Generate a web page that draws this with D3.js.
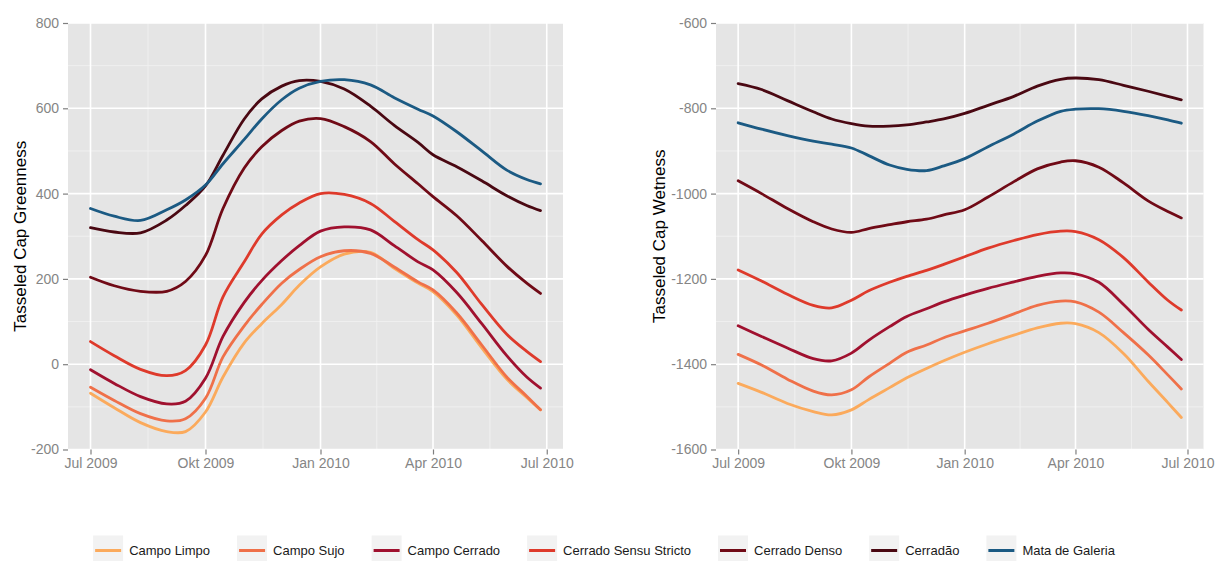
<!DOCTYPE html>
<html>
<head>
<meta charset="utf-8">
<script src="https://cdn.jsdelivr.net/npm/d3@7"></script>
<style>
  body { margin: 0; background: #fff; }
  svg { display: block; font-family: "Liberation Sans", Arial, sans-serif; }
</style>
</head>
<body>
<div id="chart"></div>
<script>
// sample dates (same for every series)
const dates = ["2009-07-01", "2009-07-20", "2009-08-10", "2009-08-31", "2009-09-15", "2009-10-01",
  "2009-10-15", "2009-11-01", "2009-11-15", "2009-12-01", "2009-12-15", "2010-01-01",
  "2010-01-20", "2010-02-10", "2010-03-01", "2010-03-20", "2010-04-01", "2010-04-20",
  "2010-05-10", "2010-05-30", "2010-06-15", "2010-06-26"];

const seriesNames = ["Campo Limpo", "Campo Sujo", "Campo Cerrado", "Cerrado Sensu Stricto",
  "Cerrado Denso", "Cerradão", "Mata de Galeria"];
const seriesColors = ["#FBAA5C", "#EF7049", "#A0112F", "#DE3A2B", "#700A16", "#4A0812", "#1B5A83"];

// Tasseled Cap Greenness
const gCampoLimpo = [-68, -102, -137, -158, -158, -112, -30, 50, 95, 140, 185, 228, 258, 262, 225, 190, 170, 115, 38, -35, -78, -107];
const gCampoSujo = [-54, -85, -116, -133, -128, -80, 17, 90, 140, 190, 222, 252, 266, 260, 228, 193, 174, 120, 45, -30, -75, -107];
const gCampoCerrado = [-13, -45, -76, -93, -87, -33, 65, 145, 196, 243, 278, 312, 322, 315, 278, 240, 221, 168, 95, 20, -30, -56];
const gSensuStricto = [53, 20, -12, -27, -15, 45, 158, 240, 305, 350, 378, 400, 398, 377, 335, 292, 268, 215, 140, 70, 30, 6];
const gCerradoDenso = [204, 184, 171, 171, 194, 255, 365, 460, 510, 548, 570, 576, 557, 522, 470, 423, 393, 348, 290, 230, 190, 166];
const gCerradao = [320, 310, 308, 338, 372, 418, 490, 575, 622, 652, 665, 663, 645, 605, 560, 520, 491, 463, 430, 395, 372, 360];
const gMataGaleria = [365, 347, 337, 362, 385, 420, 470, 527, 575, 620, 647, 663, 667, 655, 625, 598, 582, 545, 500, 455, 433, 423];

// Tasseled Cap Wetness
const wCampoLimpo = [-1445, -1466, -1492, -1511, -1519, -1507, -1483, -1455, -1432, -1410, -1392, -1372, -1352, -1332, -1315, -1304, -1305, -1326, -1375, -1440, -1490, -1525];
const wCampoSujo = [-1377, -1402, -1435, -1463, -1472, -1460, -1430, -1398, -1372, -1355, -1338, -1322, -1304, -1282, -1262, -1252, -1254, -1278, -1326, -1378, -1425, -1458];
const wCampoCerrado = [-1310, -1335, -1362, -1387, -1392, -1374, -1344, -1312, -1288, -1270, -1254, -1238, -1222, -1207, -1194, -1186, -1188, -1208, -1260, -1318, -1360, -1389];
const wSensuStricto = [-1179, -1205, -1236, -1262, -1268, -1250, -1228, -1208, -1194, -1180, -1166, -1148, -1128, -1110, -1096, -1088, -1089, -1108, -1150, -1207, -1250, -1273];
const wCerradoDenso = [-970, -1000, -1035, -1066, -1083, -1091, -1082, -1073, -1066, -1060, -1050, -1038, -1008, -972, -942, -926, -923, -938, -975, -1017, -1042, -1057];
const wCerradao = [-742, -756, -782, -808, -825, -836, -842, -842, -839, -832, -825, -812, -793, -772, -748, -732, -729, -733, -746, -760, -772, -780];
const wMataGaleria = [-834, -849, -864, -877, -884, -893, -911, -933, -943, -946, -935, -918, -890, -860, -830, -807, -802, -801, -807, -817, -827, -835];

const greenTicks = [-200, 0, 200, 400, 600, 800];
const wetTicks = [-1600, -1400, -1200, -1000, -800, -600];
const xTickDates = ["2009-07-01", "2009-10-01", "2010-01-01", "2010-04-01", "2010-07-01"];
const xTickLabels = ["Jul 2009", "Okt 2009", "Jan 2010", "Apr 2010", "Jul 2010"];

const width = 1215;
const height = 561;
const parseDate = d3.timeParse("%Y-%m-%d");

let svg = d3.select("#chart")
  .append("svg")
  .attr("width", width)
  .attr("height", height);

function drawPanel(opts) {
  let dts = dates.map(parseDate);
  let ext = d3.extent(dts);
  let pad = (ext[1] - ext[0]) * 0.05;

  let xScale = d3.scaleTime()
    .domain([new Date(+ext[0] - pad), new Date(+ext[1] + pad)])
    .range([opts.left, opts.right]);
  let yScale = d3.scaleLinear()
    .domain(d3.extent(opts.ticks))
    .range([opts.bottom, opts.top]);

  let g = svg.append("g");

  // background
  g.append("rect")
    .attr("x", opts.left)
    .attr("y", opts.top)
    .attr("width", opts.right - opts.left)
    .attr("height", opts.bottom - opts.top)
    .attr("fill", "#E5E5E5");

  // minor grid
  let tickDts = xTickDates.map(parseDate);
  let minorX = d3.pairs(tickDts).map(p => new Date((+p[0] + +p[1]) / 2));
  let minorY = d3.pairs(opts.ticks).map(p => (p[0] + p[1]) / 2);
  g.selectAll(".minx").data(minorX).enter().append("line")
    .attr("x1", d => xScale(d)).attr("x2", d => xScale(d))
    .attr("y1", opts.top).attr("y2", opts.bottom)
    .attr("stroke", "#F2F2F2").attr("stroke-width", 0.8);
  g.selectAll(".miny").data(minorY).enter().append("line")
    .attr("x1", opts.left).attr("x2", opts.right)
    .attr("y1", d => yScale(d)).attr("y2", d => yScale(d))
    .attr("stroke", "#F2F2F2").attr("stroke-width", 0.8);

  // major grid
  g.selectAll(".majx").data(tickDts).enter().append("line")
    .attr("x1", d => xScale(d)).attr("x2", d => xScale(d))
    .attr("y1", opts.top).attr("y2", opts.bottom)
    .attr("stroke", "#fff").attr("stroke-width", 1.6);
  g.selectAll(".majy").data(opts.ticks).enter().append("line")
    .attr("x1", opts.left).attr("x2", opts.right)
    .attr("y1", d => yScale(d)).attr("y2", d => yScale(d))
    .attr("stroke", "#fff").attr("stroke-width", 1.6);

  // lines
  let line = d3.line()
    .x((d, i) => xScale(dts[i]))
    .y(d => yScale(d))
    .curve(d3.curveCatmullRom.alpha(0.5));

  g.selectAll(".series")
    .data(opts.series)
    .enter()
    .append("path")
    .attr("d", d => line(d))
    .attr("fill", "none")
    .attr("stroke", (d, i) => seriesColors[i])
    .attr("stroke-width", 2.8)
    .attr("stroke-linejoin", "round")
    .attr("stroke-linecap", "round");

  // axes
  let xAxis = g.append("g")
    .attr("transform", `translate(0, ${opts.bottom})`)
    .call(d3.axisBottom(xScale)
      .tickValues(tickDts)
      .tickFormat((d, i) => xTickLabels[i])
      .tickSizeOuter(0)
      .tickSize(5)
      .tickPadding(4));
  let yAxis = g.append("g")
    .attr("transform", `translate(${opts.left}, 0)`)
    .call(d3.axisLeft(yScale)
      .tickValues(opts.ticks)
      .tickFormat(d => String(d))
      .tickSizeOuter(0)
      .tickSize(5)
      .tickPadding(4));

  [xAxis, yAxis].forEach(a => {
    a.select(".domain").remove();
    a.selectAll(".tick line").attr("stroke", "#7F7F7F").attr("stroke-width", 1.2);
    a.selectAll(".tick text")
      .attr("fill", "#858585")
      .style("font-size", "14px")
      .style("font-family", "'Liberation Sans', Arial, sans-serif");
  });

  // axis title
  svg.append("text")
    .attr("transform", `translate(${opts.titleX}, ${(opts.top + opts.bottom) / 2}) rotate(-90)`)
    .attr("text-anchor", "middle")
    .attr("dy", "0.35em")
    .style("font-size", "17px")
    .attr("fill", "#000")
    .text(opts.title);
}

drawPanel({
  left: 68, right: 563, top: 23, bottom: 449.5,
  ticks: greenTicks,
  series: [gCampoLimpo, gCampoSujo, gCampoCerrado, gSensuStricto, gCerradoDenso, gCerradao, gMataGaleria],
  title: "Tasseled Cap Greenness",
  titleX: 20
});

drawPanel({
  left: 716, right: 1203.5, top: 23, bottom: 449.5,
  ticks: wetTicks,
  series: [wCampoLimpo, wCampoSujo, wCampoCerrado, wSensuStricto, wCerradoDenso, wCerradao, wMataGaleria],
  title: "Tasseled Cap Wetness",
  titleX: 659
});

// legend at the bottom, centered
let legend = svg.append("g");
let items = legend.selectAll("g")
  .data(seriesNames)
  .enter()
  .append("g");

items.append("rect")
  .attr("x", 0)
  .attr("y", -15)
  .attr("width", 30)
  .attr("height", 30)
  .attr("fill", "#F2F2F2");
items.append("line")
  .attr("x1", 2).attr("x2", 28)
  .attr("y1", 0).attr("y2", 0)
  .attr("stroke", (d, i) => seriesColors[i])
  .attr("stroke-width", 3);
items.append("text")
  .attr("x", 36)
  .attr("dy", "0.35em")
  .style("font-size", "13px")
  .attr("fill", "#1A1A1A")
  .text(d => d);

const legendGap = 27;
let widths = [];
items.each(function () {
  widths.push(36 + this.querySelector("text").getComputedTextLength());
});
let total = d3.sum(widths) + legendGap * (widths.length - 1);
let cursor = 604 - total / 2;
items.attr("transform", (d, i) => {
  let x = cursor;
  cursor += widths[i] + legendGap;
  return `translate(${x}, 550.5)`;
});
</script>
</body>
</html>
